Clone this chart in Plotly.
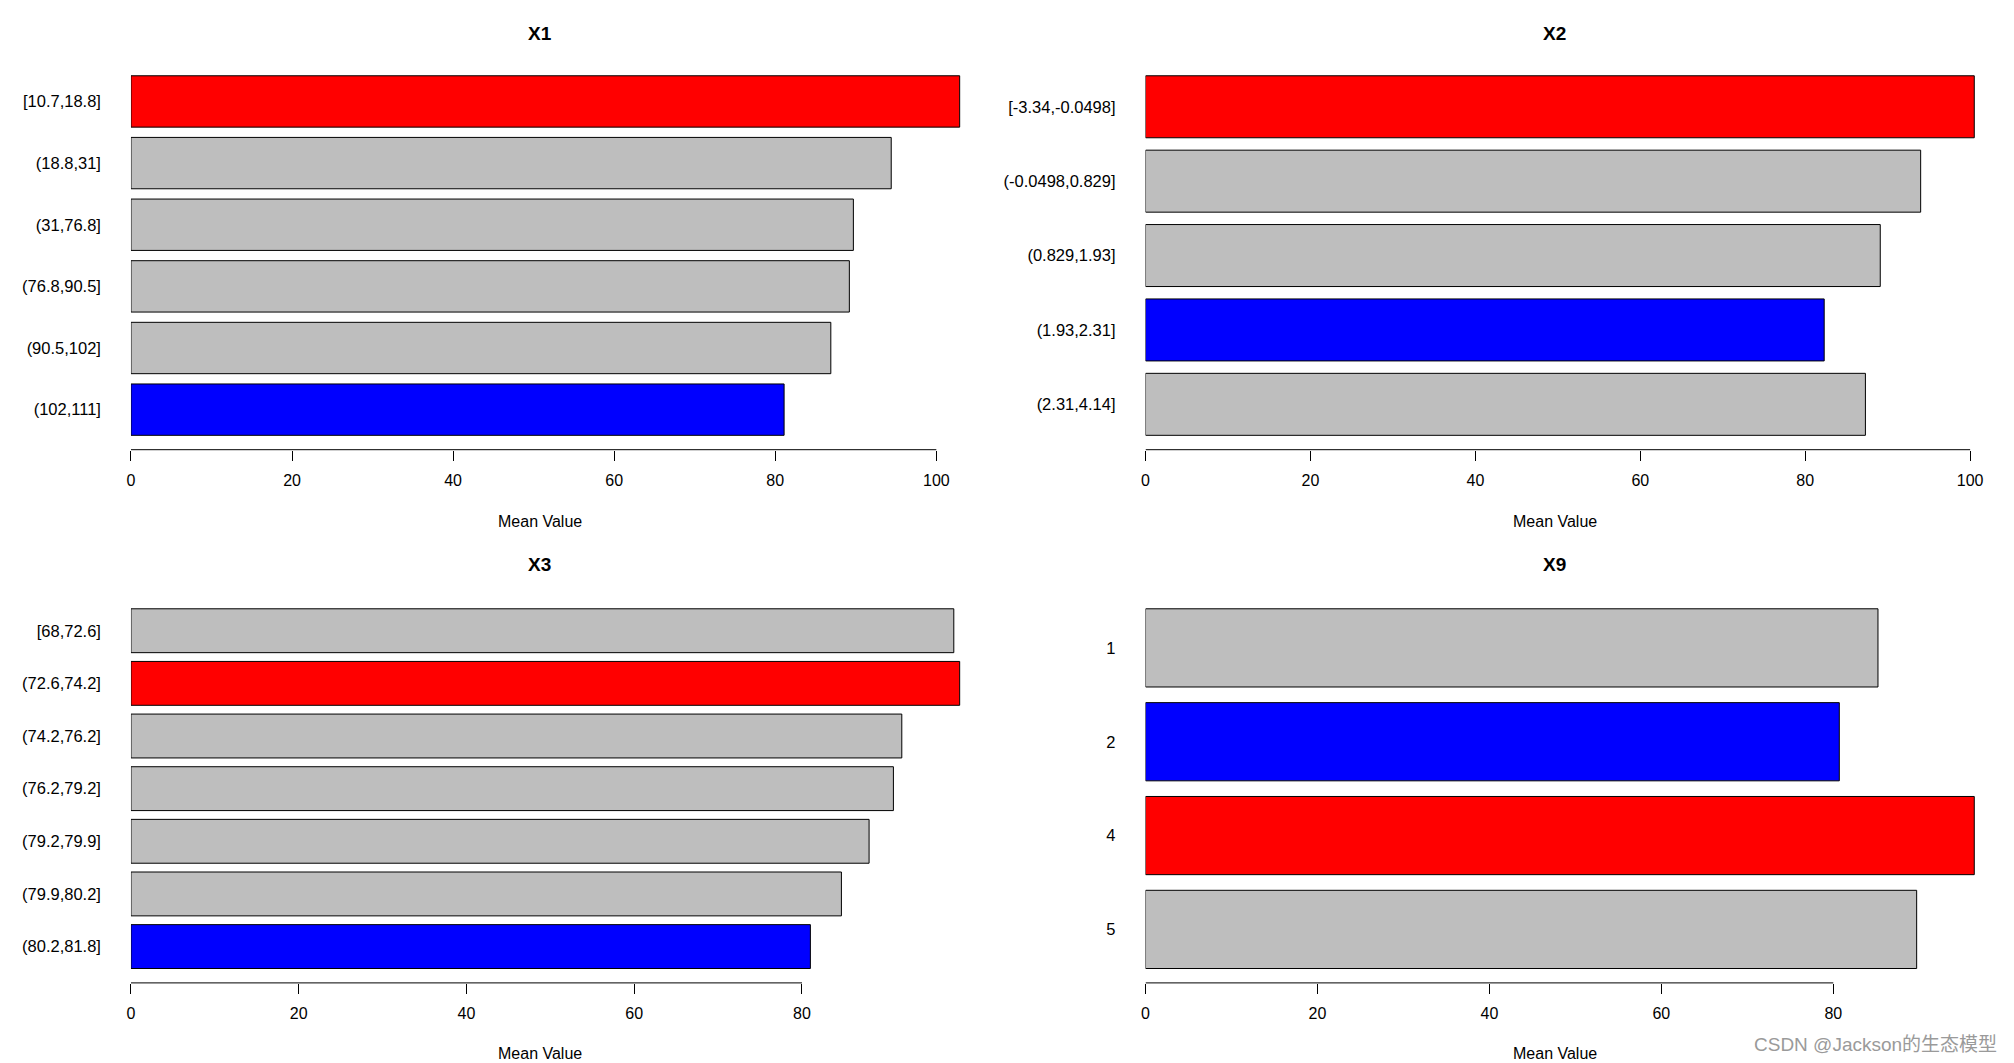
import plotly.graph_objects as go

W, H = 2014, 1063

# ---- data ----
x1_labels = ["[10.7,18.8]", "(18.8,31]", "(31,76.8]", "(76.8,90.5]", "(90.5,102]", "(102,111]"]
x1_values = [102.9, 94.4, 89.7, 89.2, 86.9, 81.1]

x2_labels = ["[-3.34,-0.0498]", "(-0.0498,0.829]", "(0.829,1.93]", "(1.93,2.31]", "(2.31,4.14]"]
x2_values = [100.5, 94.0, 89.1, 82.3, 87.3]

x3_labels = ["[68,72.6]", "(72.6,74.2]", "(74.2,76.2]", "(76.2,79.2]", "(79.2,79.9]", "(79.9,80.2]", "(80.2,81.8]"]
x3_values = [98.1, 98.8, 91.9, 90.9, 88.0, 84.7, 81.0]

x9_labels = ["1", "2", "4", "5"]
x9_values = [85.2, 80.7, 96.4, 89.7]

panel_titles = ["X1", "X2", "X3", "X9"]
x_axis_label = "Mean Value"
watermark = "CSDN @Jackson的生态模型"

panels = [
    (x1_labels, x1_values),
    (x2_labels, x2_values),
    (x3_labels, x3_values),
    (x9_labels, x9_values),
]

# ---- layout geometry (pixels) ----
FONT = "Liberation Sans, Arial, sans-serif"
x_domains_px = [(127.2, 990.8), (1143.8, 2007.4), (127.2, 990.8), (1143.8, 2007.4)]
y_domains_px = [(61.4, 449.7), (61.4, 449.7), (594.4, 982.9), (594.4, 982.9)]
title_pos = [(537, 33), (1554, 33), (537, 564), (1554, 564)]
xlabel_pos = [(537, 521), (1554, 521), (537, 1053), (1554, 1053)]

GRAY, RED, BLUE = "#BEBEBE", "#FF0000", "#0000FF"

fig = go.Figure()
layout = dict(
    width=W, height=H,
    margin=dict(l=0, r=0, t=0, b=0),
    paper_bgcolor="white", plot_bgcolor="white",
    showlegend=False,
    bargap=0.2 / 1.2,
    font=dict(family=FONT, size=16, color="black"),
    shapes=[], annotations=[],
)

for i, (labels, values) in enumerate(panels):
    k = "" if i == 0 else str(i + 1)
    n = len(labels)
    vmax, vmin = max(values), min(values)
    colors = [RED if v == vmax else (BLUE if v == vmin else GRAY) for v in values]
    fig.add_trace(go.Bar(
        x=values, y=labels, orientation="h",
        marker=dict(color=colors, line=dict(color="black", width=1)),
        xaxis="x" + k, yaxis="y" + k, hoverinfo="x+y",
    ))
    ticks = list(range(0, int(vmax) + 1, 20))
    xd = x_domains_px[i]
    yd = y_domains_px[i]
    layout["xaxis" + k] = dict(
        domain=[xd[0] / W, xd[1] / W],
        anchor="y" + k,
        range=[0, 1.04 * vmax],
        tickvals=ticks, ticktext=[str(t) for t in ticks],
        ticks="outside", ticklen=10, tickwidth=1, tickcolor="black",
        showgrid=False, zeroline=False, showline=False,
        tickfont=dict(family=FONT, size=16, color="black"),
        ticklabelstandoff=6,
        fixedrange=True,
    )
    half = 0.5 / 1.2
    ext = 0.04 * (n - 1 + 2 * half)
    layout["yaxis" + k] = dict(
        domain=[1 - yd[1] / H, 1 - yd[0] / H],
        anchor="x" + k,
        type="category",
        categoryorder="array", categoryarray=labels,
        range=[n - 1 + half + ext, -half - ext],
        showgrid=False, zeroline=False, showline=False, ticks="",
        tickfont=dict(family=FONT, size=16.5, color="black"),
        ticklabelstandoff=29,
        fixedrange=True,
    )
    # R-style axis line spanning first to last tick
    layout["shapes"].append(dict(
        type="line", xref="x" + k, yref="y" + k + " domain",
        x0=ticks[0], x1=ticks[-1], y0=0, y1=0,
        line=dict(color="black", width=1),
    ))
    tx, ty = title_pos[i]
    layout["annotations"].append(dict(
        text="<b>" + panel_titles[i] + "</b>", xref="paper", yref="paper",
        x=tx / W, y=1 - ty / H, xanchor="center", yanchor="middle",
        showarrow=False, font=dict(family=FONT, size=19, color="black"),
    ))
    lx, ly = xlabel_pos[i]
    layout["annotations"].append(dict(
        text=x_axis_label, xref="paper", yref="paper",
        x=lx / W, y=1 - ly / H, xanchor="center", yanchor="middle",
        showarrow=False, font=dict(family=FONT, size=16, color="black"),
    ))

layout["annotations"].append(dict(
    text=watermark, xref="paper", yref="paper",
    x=1999 / W, y=1 - 1044 / H, xanchor="right", yanchor="middle",
    showarrow=False,
    font=dict(family="Liberation Sans, Noto Sans CJK SC, sans-serif", size=19, color="#9a9a9a"),
))

fig.update_layout(**layout)
fig.write_html("out.html", config={"displayModeBar": False})
